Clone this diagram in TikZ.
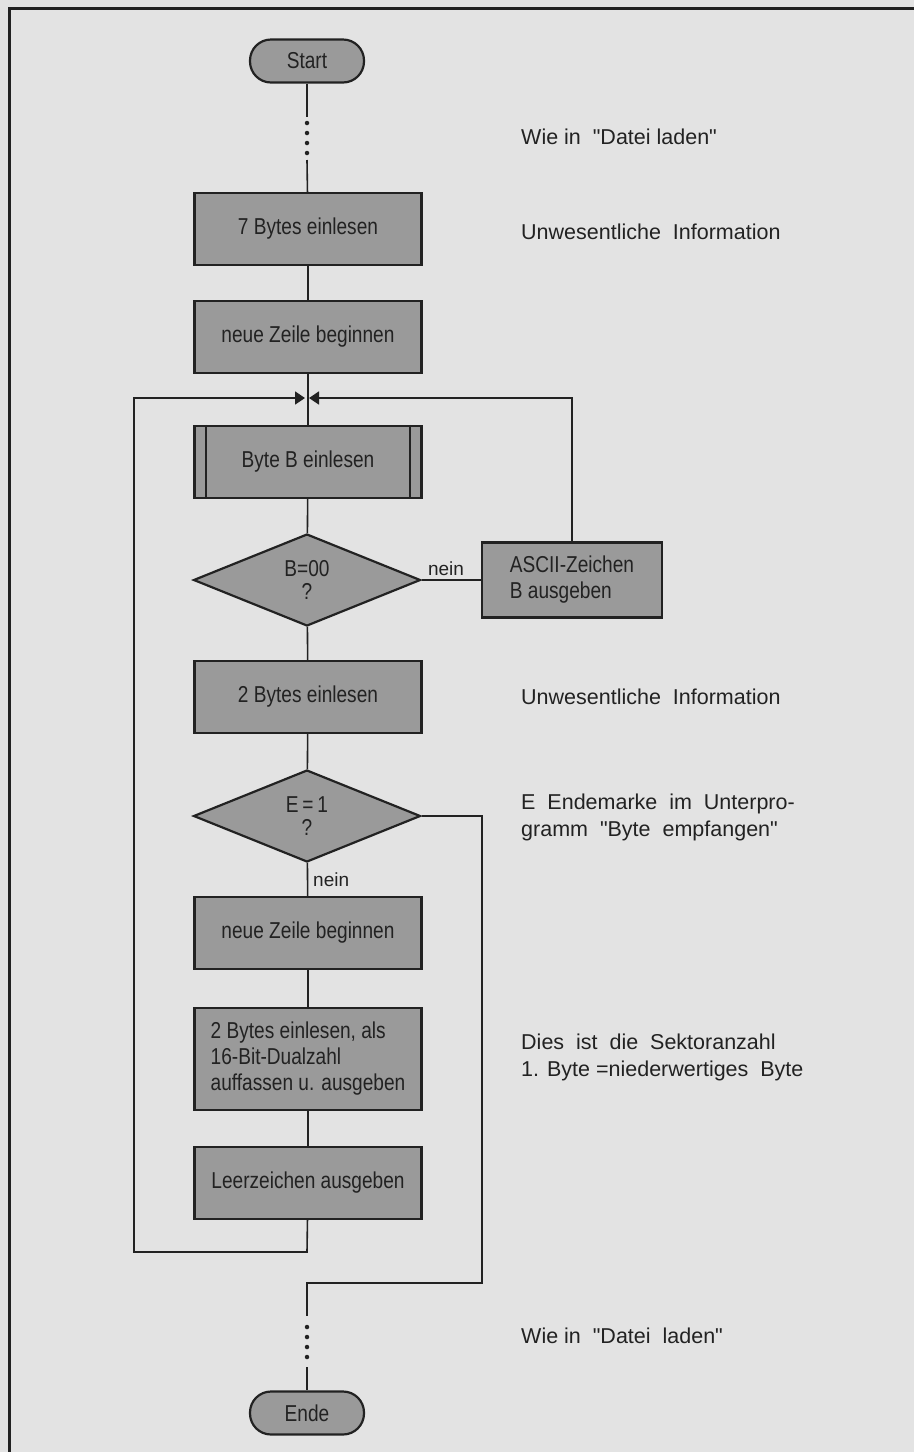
\documentclass[tikz,border=0pt]{standalone}
\usepackage{fontspec}
\setmainfont{Liberation Sans}
\newfontfamily\boxfont[FakeStretch=0.83]{Liberation Sans}
\newfontfamily\notefont{Liberation Sans}
\usetikzlibrary{shapes.geometric,arrows.meta}
\definecolor{bg}{HTML}{E3E3E3}
\definecolor{boxgray}{HTML}{9A9A9A}
\definecolor{ink}{HTML}{222222}
\begin{document}
\begin{tikzpicture}[x=1pt,y=-1pt,
  proc/.style={draw=ink, line width=2.2pt, fill=boxgray, minimum width=227pt, minimum height=72pt,
    inner sep=0pt, text=ink, font=\boxfont\fontsize{23}{26}\selectfont, align=center},
  term/.style={proc, rounded corners=21pt, minimum width=114pt, minimum height=43pt},
  dec/.style={diamond, draw=ink, line width=2.2pt, fill=boxgray, minimum width=227pt, minimum height=92pt,
    inner sep=0pt, text=ink, font=\boxfont\fontsize{23}{23}\selectfont, align=center},
  conn/.style={draw=ink, line width=1.6pt},
  arr/.style={conn, -{Triangle[length=10pt,width=13pt]}},
  dotline/.style={draw=ink, line width=4.5pt, line cap=round, dash pattern=on 0pt off 10pt},
  note/.style={anchor=west, inner sep=0pt, text=ink, font=\notefont\fontsize{21.5}{27}\selectfont, align=left},
  lbl/.style={inner sep=0pt, text=ink, font=\notefont\fontsize{19}{22}\selectfont}
]
\fill[bg] (0,0) rectangle (914,1452);
\useasboundingbox (0,0) rectangle (914,1452);
\draw[ink, line width=3pt] (9,1452) -- (9,8) -- (914,8);

% nodes
\node[term] (start) at (307,61) {Start};
\node[proc] (b7) at (308,229) {7 Bytes einlesen};
\node[proc] (z1) at (308,337) {neue Zeile beginnen};
\node[proc] (bb) at (308,462) {Byte B einlesen};
\draw[ink, line width=2pt] ([xshift=13pt]bb.north west) -- ([xshift=13pt]bb.south west);
\draw[ink, line width=2pt] ([xshift=-13pt]bb.north east) -- ([xshift=-13pt]bb.south east);
\node[dec] (dB) at (307,580) {B=00\\?};
\node[proc, minimum width=180pt, minimum height=75pt, align=left] (asc) at (572,580) {ASCII-Zeichen\\B ausgeben};
\node[proc] (b2) at (308,697) {2 Bytes einlesen};
\node[dec] (dE) at (307,816) {E\,=\,1\\?};
\node[proc] (z2) at (308,933) {neue Zeile beginnen};
\node[proc, minimum height=102pt, align=left] (dual) at (308,1059) {2 Bytes einlesen, als\\16-Bit-Dualzahl\\auffassen u. ausgeben};
\node[proc] (leer) at (308,1183) {Leerzeichen ausgeben};
\node[term] (ende) at (307,1413) {Ende};

% coordinates
\coordinate (s1) at (307,117);
\coordinate (s2) at (307,123);
\coordinate (s3) at (307,153);
\coordinate (s4) at (307,160);
\coordinate (mL) at (305,398);
\coordinate (mR) at (309,398);
\coordinate (aT) at (572,398);
\coordinate (l1) at (307,1252);
\coordinate (l2) at (134,1252);
\coordinate (l3) at (134,398);
\coordinate (r1) at (482,816);
\coordinate (r2) at (482,1283);
\coordinate (r3) at (307,1283);
\coordinate (e1) at (307,1316);
\coordinate (e2) at (307,1327);
\coordinate (e3) at (307,1357);
\coordinate (e4) at (307,1367);

% connectors
\draw[conn] (start) -- (s1);
\draw[dotline] (s2) -- (s3);
\draw[conn] (s4) -- (b7);
\draw[conn] (b7) -- (z1);
\draw[conn] (z1) -- (bb);
\draw[conn] (bb) -- (dB);
\draw[conn] (dB) -- (asc);
\draw[arr] (asc) -- (aT) -- (mR);
\draw[conn] (dB) -- (b2);
\draw[conn] (b2) -- (dE);
\draw[conn] (dE) -- (z2);
\draw[conn] (z2) -- (dual);
\draw[conn] (dual) -- (leer);
\draw[arr] (leer) -- (l1) -- (l2) -- (l3) -- (mL);
\draw[conn] (dE.east) -- (r1) -- (r2) -- (r3) -- (e1);
\draw[dotline] (e2) -- (e3);
\draw[conn] (e4) -- (ende);

% labels
\node[lbl, anchor=south] (n1) at (446,576) {nein};
\node[lbl, anchor=west] (n2) at (313,880) {nein};

% notes
\node[note] (t1) at (521,137) {Wie in \ "Datei laden"};
\node[note] (t2) at (521,232) {Unwesentliche \ Information};
\node[note] (t3) at (521,697) {Unwesentliche \ Information};
\node[note] (t4) at (521,817) {E \ Endemarke \ im \ Unterpro-\\gramm \ "Byte \ empfangen"};
\node[note] (t5) at (521,1057) {Dies \ ist \ die \ Sektoranzahl\\1. Byte =niederwertiges \ Byte};
\node[note] (t6) at (521,1336) {Wie in \ "Datei \ laden"};
\end{tikzpicture}
\end{document}
